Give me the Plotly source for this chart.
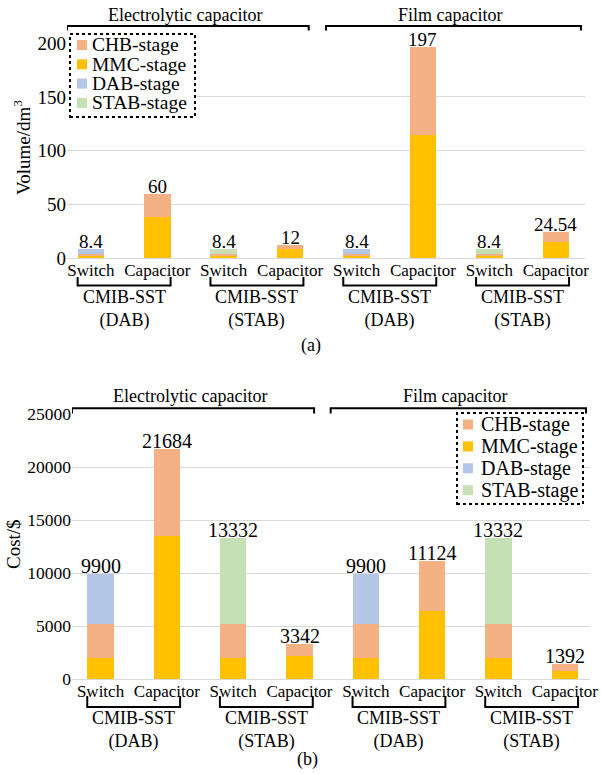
import plotly.graph_objects as go

# ---- data ----
categories = ["Switch", "Capacitor", "Switch", "Capacitor",
              "Switch", "Capacitor", "Switch", "Capacitor"]
group_labels = ["CMIB-SST<br>(DAB)", "CMIB-SST<br>(STAB)",
                "CMIB-SST<br>(DAB)", "CMIB-SST<br>(STAB)"]
cap_types = ["Electrolytic capacitor", "Film capacitor"]
stages = ["CHB-stage", "MMC-stage", "DAB-stage", "STAB-stage"]

# volume (dm^3) per stage
vol_mmc = [2, 38, 2, 8, 2, 115, 2, 15]
vol_chb = [2, 22, 2, 4, 2, 82, 2, 9.54]
vol_dab = [4.4, 0, 0, 0, 4.4, 0, 0, 0]
vol_stab = [0, 0, 4.4, 0, 0, 0, 4.4, 0]

# cost ($) per stage
cost_mmc = [2000, 13500, 2000, 2150, 2000, 6450, 2000, 760]
cost_chb = [3200, 8184, 3200, 1192, 3200, 4674, 3200, 632]
cost_dab = [4700, 0, 0, 0, 4700, 0, 0, 0]
cost_stab = [0, 0, 8132, 0, 0, 0, 8132, 0]

colors = {"CHB-stage": "#F4B183", "MMC-stage": "#FFC000",
          "DAB-stage": "#B4C7E7", "STAB-stage": "#C5E0B4"}

FONT = "Times New Roman, Liberation Serif, DejaVu Serif, serif"
W, H = 601, 774


def px(p):
    return p / W


def py(p):
    return 1 - p / H


def nz(vals):
    return [v if v else None for v in vals]


def fmt(v):
    return f"{round(v, 2):g}"


def note(x, y, text, size, xref="paper", yref="paper", **kw):
    opts = dict(x=x, y=y, xref=xref, yref=yref, text=text, showarrow=False,
                xanchor="center", yanchor="middle",
                font=dict(family=FONT, size=size, color="black"))
    opts.update(kw)
    return opts


xs = list(range(len(categories)))
fig = go.Figure()

panels = [
    ("x", "y", [("MMC-stage", vol_mmc), ("CHB-stage", vol_chb),
                ("DAB-stage", vol_dab), ("STAB-stage", vol_stab)], 19),
    ("x2", "y2", [("MMC-stage", cost_mmc), ("CHB-stage", cost_chb),
                  ("DAB-stage", cost_dab), ("STAB-stage", cost_stab)], 20),
]

annotations = []
for xa, ya, series, lab_size in panels:
    for name, vals in series:
        fig.add_trace(go.Bar(
            x=xs, y=nz(vals), name=name, xaxis=xa, yaxis=ya,
            width=0.4, marker=dict(color=colors[name], line=dict(width=0)),
            showlegend=False, hoverinfo="skip"))
    totals = [sum(v[i] for _, v in series) for i in xs]
    for i, t in zip(xs, totals):
        annotations.append(note(i, t, fmt(t), lab_size, xref=xa, yref=ya,
                                yanchor="bottom", yshift=-5))

grid = "#D9D9D9"
common_y = dict(showgrid=True, gridcolor=grid, gridwidth=1, zeroline=True,
                zerolinecolor=grid, zerolinewidth=1, showline=False, ticks="",
                automargin=False, color="black", tickformat="d")
common_x = dict(tickmode="array", tickvals=xs, ticktext=categories,
                showgrid=False, zeroline=False, showline=False, ticks="",
                automargin=False, tickfont=dict(family=FONT, size=17, color="black"))

fig.update_layout(
    width=W, height=H, margin=dict(l=0, r=0, t=0, b=0),
    paper_bgcolor="white", plot_bgcolor="white", barmode="stack",
    font=dict(family=FONT, color="black"),
    xaxis=dict(domain=[px(67), px(585)], range=[-0.36, 7.44], anchor="y", **common_x),
    yaxis=dict(domain=[py(258), py(43.3)], range=[0, 200], dtick=50, anchor="x",
               tickfont=dict(family=FONT, size=19, color="black"), **common_y),
    xaxis2=dict(domain=[px(72), px(590)], range=[-0.43, 7.38], anchor="y2", **common_x),
    yaxis2=dict(domain=[py(679), py(414.3)], range=[0, 25000], dtick=5000, anchor="x2",
                tickfont=dict(family=FONT, size=17.5, color="black"), **common_y),
)

shapes = []
line = dict(color="black", width=2)

# group brackets under the category labels
for xa, top, bot, lab_y in [("x", 277, 285.5, 308.5), ("x2", 696, 707, 730)]:
    for g, lab in enumerate(group_labels):
        x0, x1 = 2 * g - 0.2, 2 * g + 1.2
        shapes.append(dict(type="path", xref=xa, yref="paper",
                           path=f"M {x0},{py(top)} L {x0},{py(bot)} L {x1},{py(bot)} L {x1},{py(top)}",
                           line=line))
        annotations.append(note(2 * g + 0.5, py(lab_y), lab, 18, xref=xa))

# capacitor-type brackets above each chart
for xa, spans, yl, yt, ty in [
        ("x", [(-0.36, 3.28), (3.54, 7.38)], 26, 30.5, 15),
        ("x2", [(-0.43, 3.22), (3.47, 7.32)], 408.3, 413.5, 396)]:
    for (x0, x1), lab in zip(spans, cap_types):
        shapes.append(dict(type="path", xref=xa, yref="paper",
                           path=f"M {x0},{py(yt)} L {x0},{py(yl)} L {x1},{py(yl)} L {x1},{py(yt)}",
                           line=line))
        annotations.append(note((x0 + x1) / 2 - 0.05, py(ty), lab, 18, xref=xa))

# legends (dotted box with coloured squares)
for bx0, bx1, by0, by1, sx, tx, y0, dy, fs in [
        (70, 195, 34, 117, 77, 91, 45, 19.3, 19.5),
        (457, 583, 413, 504, 463, 480, 424.5, 21.9, 20)]:
    shapes.append(dict(type="rect", xref="paper", yref="paper",
                       x0=px(bx0), x1=px(bx1), y0=py(by1), y1=py(by0),
                       fillcolor="white", line=dict(color="black", width=2, dash="dot"),
                       layer="above"))
    for k, name in enumerate(stages):
        cy = y0 + k * dy
        shapes.append(dict(type="rect", xref="paper", yref="paper",
                           x0=px(sx), x1=px(sx + 10), y0=py(cy + 5), y1=py(cy - 5),
                           fillcolor=colors[name], line=dict(width=0), layer="above"))
        annotations.append(note(px(tx), py(cy), name, fs, xanchor="left", borderpad=0))

# axis titles and panel captions
annotations += [
    note(px(22), py(148), "Volume/dm<sup>3</sup>", 19, textangle=-90),
    note(px(13), py(544), "Cost/$", 19, textangle=-90),
    note(px(311), py(345), "(a)", 18),
    note(px(307), py(759), "(b)", 18),
]

fig.update_layout(shapes=shapes, annotations=annotations)
fig.write_html("out.html")
